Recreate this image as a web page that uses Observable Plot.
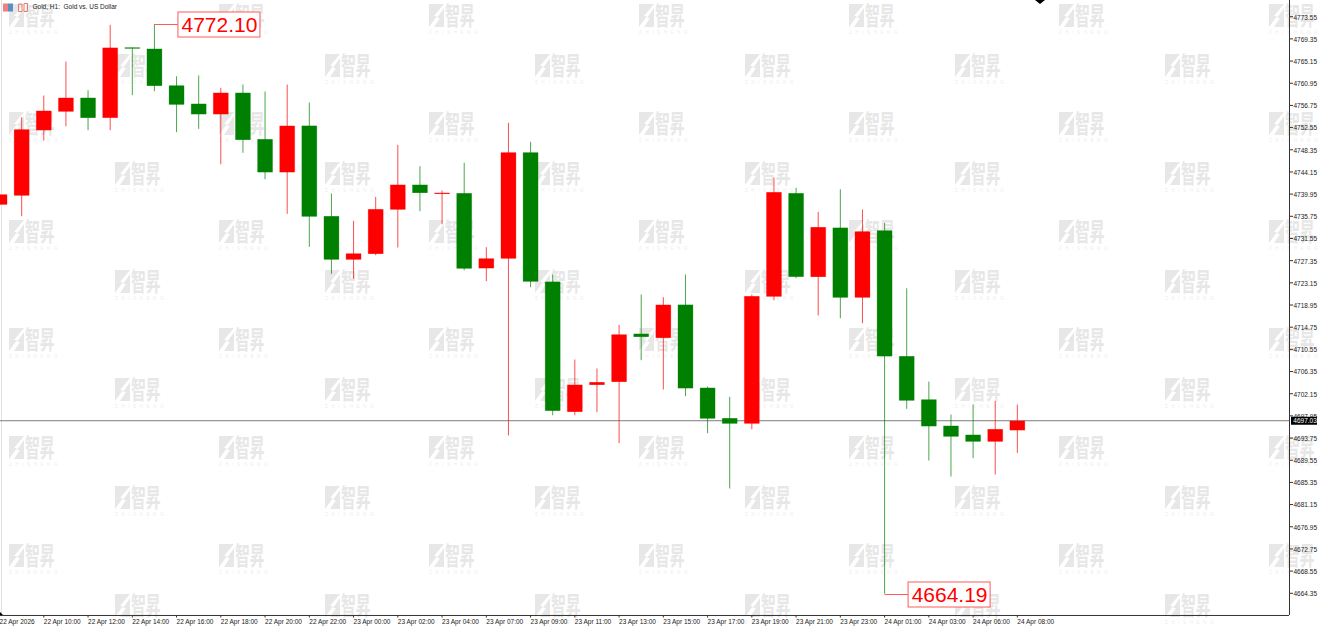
<!DOCTYPE html>
<html>
<head>
<meta charset="utf-8">
<script src="https://cdn.jsdelivr.net/npm/d3@7"></script>
<script src="https://cdn.jsdelivr.net/npm/@observablehq/plot@0.6"></script>
<style>
html,body{margin:0;padding:0;background:#fff;}
svg{display:block;}
</style>
</head>
<body>
<div id="chart"></div>
<script>
const open = [4737.88,4739.59,4751.96,4755.5,4758.09,4754.31,4767.62,4767.37,4760.42,4756.96,4754.99,4759.04,4750.25,4744.0,4752.79,4735.67,4727.47,4728.55,4736.94,4741.62,4739.91,4740.02,4725.82,4727.66,4747.73,4723.25,4698.63,4703.74,4704.31,4713.4,4712.64,4718.89,4703.17,4697.41,4696.41,4720.46,4740.02,4724.19,4733.47,4720.27,4732.96,4709.15,4700.95,4695.97,4694.27,4693.0,4695.14];
const high = [4739.8,4754.42,4758.53,4764.97,4759.53,4771.92,4767.62,4772.10,4762.18,4762.32,4759.99,4760.61,4759.29,4760.61,4757.2,4739.97,4734.8,4739.34,4749.19,4745.14,4740.54,4745.78,4729.8,4753.36,4749.76,4724.63,4708.53,4706.83,4715.1,4720.84,4720.33,4724.63,4703.42,4701.47,4720.84,4743.0,4741.05,4736.5,4740.78,4736.94,4734.42,4722.03,4704.36,4698.11,4700.01,4700.71,4700.01];
const low = [4737.9,4735.67,4750.01,4752.71,4751.96,4751.96,4758.59,4759.34,4751.58,4752.22,4745.52,4747.68,4742.68,4736.12,4729.87,4724.76,4723.81,4728.28,4729.74,4736.62,4734.15,4725.44,4723.36,4694.14,4722.22,4697.98,4697.98,4698.55,4692.68,4708.4,4702.85,4701.58,4694.57,4684.1,4695.33,4719.76,4723.93,4716.86,4716.35,4715.4,4664.19,4699.19,4689.4,4686.37,4689.84,4686.75,4690.86];
const close = [4739.78,4752.09,4755.63,4758.09,4754.31,4767.56,4767.43,4760.37,4756.82,4754.99,4759.04,4750.14,4744.0,4752.79,4735.61,4727.47,4728.6,4736.99,4741.62,4740.1,4740.1,4725.76,4727.66,4747.73,4723.3,4698.81,4703.74,4704.23,4713.26,4712.83,4718.89,4703.09,4697.36,4696.41,4720.52,4740.21,4724.19,4733.59,4720.27,4732.77,4709.15,4700.77,4695.9,4693.95,4693.0,4695.33,4696.92];
const timeLabels = ["22 Apr 2026","22 Apr 10:00","22 Apr 12:00","22 Apr 14:00","22 Apr 16:00","22 Apr 18:00","22 Apr 20:00","22 Apr 22:00","23 Apr 00:00","23 Apr 02:00","23 Apr 04:00","23 Apr 07:00","23 Apr 09:00","23 Apr 11:00","23 Apr 13:00","23 Apr 15:00","23 Apr 17:00","23 Apr 19:00","23 Apr 21:00","23 Apr 23:00","24 Apr 01:00","24 Apr 03:00","24 Apr 06:00","24 Apr 08:00"];
const priceTicks = [4664.35,4668.55,4672.75,4676.95,4681.15,4685.35,4689.55,4693.75,4697.95,4702.15,4706.35,4710.55,4714.75,4718.95,4723.15,4727.35,4731.55,4735.75,4739.95,4744.15,4748.35,4752.55,4756.75,4760.95,4765.15,4769.35,4773.55];
const currentPrice = 4697.03;
const extremes = [{i:7, price:4772.10, label:"4772.10"},{i:40, price:4664.19, label:"4664.19"}];
const chartTitle = "Gold, H1:  Gold vs. US Dollar";
const watermarkCN = "智昇", watermarkEN = "ZHISHENG";

const RED = "#ff0000", GREEN = "#008000";
const candles = open.map((o,i)=>({i, open:o, high:high[i], low:low[i], close:close[i], color: close[i]>=o ? RED : GREEN}));
const tickIndex = timeLabels.map((_,k)=>k*2);
const labelFont = "'Liberation Sans',Arial,sans-serif";
const domainBottom = 4660.05;

function watermark(index, scales, values, dim) {
  const g = d3.create("svg:g").attr("pointer-events","none").attr("text-anchor","start");
  const stamp = (x,y) => {
    const s = g.append("g").attr("transform",`translate(${x},${y})`).attr("fill","#e7e7e7");
    s.append("path").attr("d","M0 0H15L5 12H8L0 23Z M15 4V23H5L11 14H8Z");
    s.append("text").attr("transform","translate(16,21) scale(0.62,1.06)")
      .attr("font-family","'Noto Sans CJK SC'").attr("font-weight",700).attr("font-size",24).text(watermarkCN);
    s.append("text").attr("x",0).attr("y",30).attr("font-family",labelFont).attr("font-size",4.5)
      .attr("letter-spacing",3.6).attr("fill","#eeeeee").text(watermarkEN);
  };
  for (let r=0;r<6;r++){
    for (let c=0;c<7;c++) stamp(9+210*c, 4+108*r);
    for (let c=0;c<6;c++) stamp(115+210*c, 54+108*r);
  }
  return g.node();
}
function decorations(index, {x,y}, values, dim) {
  const g = d3.create("svg:g").attr("text-anchor","start");
  // toolbar icons
  g.append("rect").attr("x",3).attr("y",3.5).attr("width",5).attr("height",8).attr("fill","#ee8080");
  g.append("rect").attr("x",8).attr("y",3.5).attr("width",5).attr("height",8).attr("fill","#5b8fc4");
  g.append("path").attr("d","M18.5 6V11.5H22V4H18.5Z M24 5V11.5H27.5V3.5H24Z").attr("fill","none").attr("stroke","#e57b6b").attr("stroke-width",1);
  // chart-shift markers
  g.append("path").attr("d","M1035 0H1045L1040 4Z").attr("fill","#000");
  g.append("path").attr("d","M0 612L3 615H0Z").attr("fill","#000");
  // extreme labels
  for (const e of extremes){
    const px = x(e.i)+0.5, py = Math.round(y(e.price))+0.5;
    const bx = px+23.5;
    g.append("path").attr("d",`M${px} ${py}H${bx}`).attr("stroke","#ff5a5a").attr("fill","none");
    g.append("rect").attr("x",bx).attr("y",py-12.5).attr("width",82).attr("height",25)
      .attr("fill","#fff").attr("stroke","#ff5a5a");
    g.append("text").attr("x",bx+41.5).attr("y",py+7.5).attr("text-anchor","middle")
      .attr("font-family",labelFont).attr("font-size",21).attr("fill",RED).text(e.label);
  }
  // current price tag
  const cy = y(currentPrice)+0.5;
  g.append("rect").attr("x",1291).attr("y",cy-4).attr("width",26).attr("height",8).attr("fill","#000");
  g.append("text").attr("x",1293.3).attr("y",cy+2.3).attr("font-family",labelFont).attr("font-size",6.5).attr("fill","#fff").text(currentPrice.toFixed(2));
  return g.node();
}

const chart = Plot.plot({
  width:1325, height:630,
  marginLeft:0, marginRight:36, marginTop:0, marginBottom:14.5,
  style:{background:"#fff", fontFamily:labelFont, overflow:"visible"},
  x:{type:"linear", domain:[0.043,58.3], axis:null},
  y:{type:"linear", domain:[domainBottom,4776.62], axis:null},
  marks:[
    watermark,
    Plot.ruleX([0.043],{stroke:"#e0e0e0", strokeWidth:1, dx:1}),
    Plot.ruleY([currentPrice],{stroke:"#7d7d7d", strokeWidth:1}),
    Plot.ruleX(candles,{x:"i", y1:"low", y2:"high", stroke:"color", strokeWidth:1, strokeOpacity:0.7}),
    Plot.ruleX(candles,{x:"i", y1:"open", y2:"close", stroke:"color", strokeWidth:16, strokeOpacity:0.25}),
    Plot.ruleX(candles,{x:"i", y1:"open", y2:"close", stroke:"color", strokeWidth:15}),
    Plot.ruleY([4660.15],{stroke:"#333", strokeWidth:1}),
    Plot.ruleX([58.3],{y1:4660.15, y2:4776.62, stroke:"#333", strokeWidth:1}),
    Plot.axisY({anchor:"right", ticks:priceTicks, text:null, tickSize:3, stroke:"#333", label:null}),
    Plot.axisY({anchor:"right", ticks:priceTicks, tickFormat:d=>d.toFixed(2), tickSize:0, tickPadding:4, dy:0.8, fontSize:6.5, fontFamily:labelFont, color:"#222", label:null}),
    Plot.axisX({anchor:"bottom", ticks:tickIndex, tickFormat:d=>timeLabels[d/2], tickSize:2, tickPadding:1, textAnchor:"start", fontSize:6.5, fontFamily:labelFont, stroke:"#333", color:"#222", label:null}),
    decorations,
    Plot.text([chartTitle],{frameAnchor:"top-left", dx:32, dy:4, textAnchor:"start", lineAnchor:"top", fontSize:6.5, fontFamily:labelFont, fill:"#222"})
  ]
});
document.getElementById("chart").appendChild(chart);
</script>
</body>
</html>
